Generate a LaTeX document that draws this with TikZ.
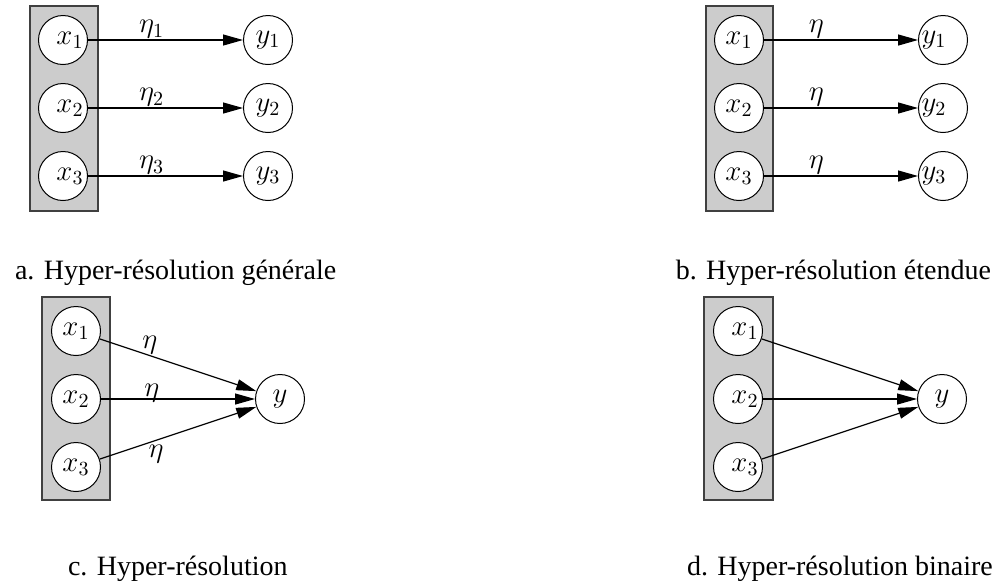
\documentclass[tikz,border=0pt]{standalone}
\usepackage{fontspec}
\setmainfont{Liberation Serif}
\usetikzlibrary{arrows.meta}
\begin{document}
\begin{tikzpicture}[
    x=0.5pt, y=-0.5pt,
    every node/.style={font=\fontsize{14}{17}\selectfont},
    vertex/.style={circle, draw, fill=white, minimum size=24.5pt, inner sep=0pt, line width=0.5pt},
    shiftr/.style={execute at begin node={\hspace*{7pt}}}, % text pushed right in the circle
    shiftl/.style={execute at end node={\hspace*{9pt}}},   % text pushed left in the circle
    group/.style={draw=black!75, fill=black!20, line width=0.8pt},
    dedge/.style={-{Triangle[length=10pt, width=5.5pt]}, line width=0.6pt}, % Directed edge style
    lbl/.style={inner sep=0.5pt},
    caption/.style={anchor=base west}
]
    \useasboundingbox (0,0) rectangle (1000,585);

    % a. general hyper-resolution
    \draw[group] (30,6) rectangle (98,211);
    \node[vertex, shiftr] (xa1) at (63,40) {$x_1$};
    \node[vertex, shiftr] (xa2) at (63,108) {$x_2$};
    \node[vertex, shiftr] (xa3) at (63,176) {$x_3$};
    \node[vertex] (ya1) at (268,40) {$y_1$};
    \node[vertex] (ya2) at (268,108) {$y_2$};
    \node[vertex] (ya3) at (268,176) {$y_3$};
    \draw[dedge] (xa1) -- (ya1) node[lbl, above, pos=0.41] {$\eta_1$};
    \draw[dedge] (xa2) -- (ya2) node[lbl, above, pos=0.41] {$\eta_2$};
    \draw[dedge] (xa3) -- (ya3) node[lbl, above, pos=0.41] {$\eta_3$};

    % b. extended hyper-resolution
    \draw[group] (706,6) rectangle (773,211);
    \node[vertex] (xb1) at (739,40) {$x_1$};
    \node[vertex] (xb2) at (739,108) {$x_2$};
    \node[vertex] (xb3) at (739,176) {$x_3$};
    \node[vertex, shiftl] (yb1) at (943,40) {$y_1$};
    \node[vertex, shiftl] (yb2) at (943,108) {$y_2$};
    \node[vertex, shiftl] (yb3) at (943,176) {$y_3$};
    \draw[dedge] (xb1) -- (yb1) node[lbl, above, pos=0.34] {$\eta$};
    \draw[dedge] (xb2) -- (yb2) node[lbl, above, pos=0.34] {$\eta$};
    \draw[dedge] (xb3) -- (yb3) node[lbl, above, pos=0.34] {$\eta$};

    % c. hyper-resolution
    \draw[group] (42,297) rectangle (110,500);
    \node[vertex] (xc1) at (76,331) {$x_1$};
    \node[vertex] (xc2) at (76,399) {$x_2$};
    \node[vertex] (xc3) at (76,467) {$x_3$};
    \node[vertex] (yc) at (280,399) {$y$};
    \draw[dedge] (xc1) -- (yc) node[lbl, above, pos=0.32] {$\eta$};
    \draw[dedge] (xc2) -- (yc) node[anchor=base, yshift=1.5pt, pos=0.33] {$\eta$};
    \draw[dedge] (xc3) -- (yc) node[below, inner sep=2pt, pos=0.36] {$\eta$};

    % d. binary hyper-resolution
    \draw[group] (704,297) rectangle (773,500);
    \node[vertex, shiftr] (xd1) at (738,331) {$x_1$};
    \node[vertex, shiftr] (xd2) at (738,399) {$x_2$};
    \node[vertex, shiftr] (xd3) at (738,467) {$x_3$};
    \node[vertex] (yd) at (942,399) {$y$};
    \draw[dedge] (xd1) -- (yd);
    \draw[dedge] (xd2) -- (yd);
    \draw[dedge] (xd3) -- (yd);

    % Captions
    \node[caption] (capa) at (8,279) {a. Hyper-résolution générale};
    \node[caption, anchor=base east] (capb) at (998,279) {b. Hyper-résolution étendue};
    \node[caption] (capc) at (61,575) {c. Hyper-résolution};
    \node[caption] (capd) at (680,575) {d. Hyper-résolution binaire};

\end{tikzpicture}
\end{document}
